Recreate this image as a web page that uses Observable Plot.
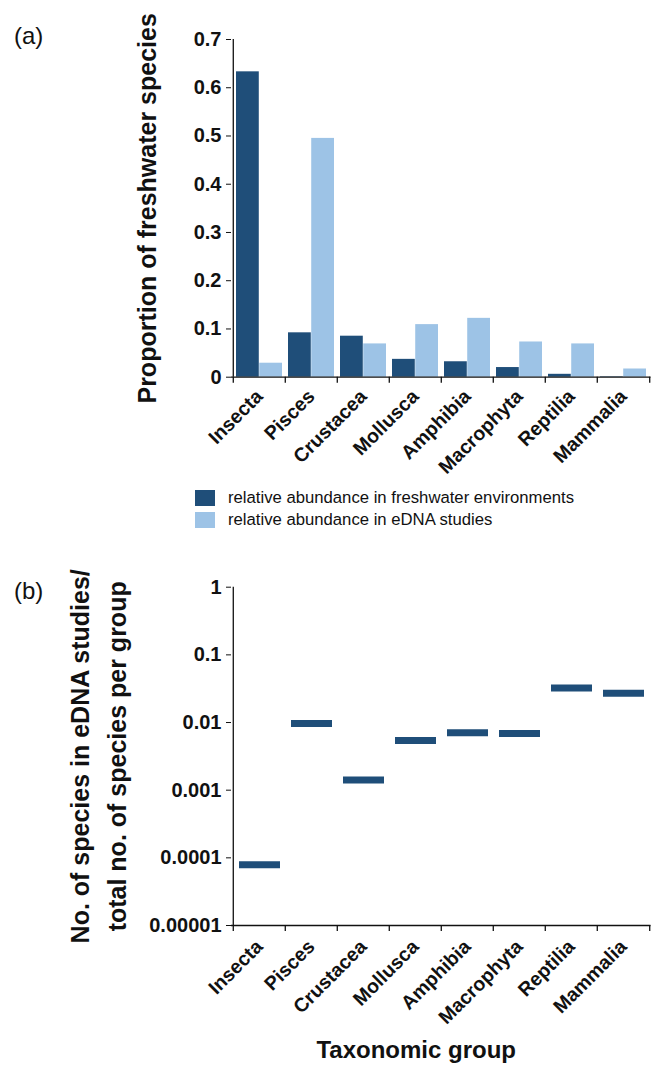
<!DOCTYPE html>
<html><head><meta charset="utf-8">
<script src="https://cdn.jsdelivr.net/npm/d3@7"></script>
<script src="https://cdn.jsdelivr.net/npm/@observablehq/plot@0.6"></script>
<style>
body{margin:0;background:#fff;}
#wrap{position:relative;width:659px;height:1076px;font-family:"Liberation Sans",Arial,sans-serif;color:#111;overflow:hidden;}
.abs{position:absolute;}
.panel-label{font-size:24px;font-weight:normal;}
.leg-row{display:flex;align-items:center;height:22px;font-size:16.7px;}
.sw{width:20px;height:16px;margin-right:13px;}
</style></head><body><div id="wrap"></div>
<script>
const categories = ["Insecta","Pisces","Crustacea","Mollusca","Amphibia","Macrophyta","Reptilia","Mammalia"];
const freshwaterShare = [0.633,0.092,0.085,0.037,0.032,0.020,0.006,0.001];
const ednaShare = [0.029,0.495,0.069,0.109,0.122,0.073,0.069,0.017];
const ednaRatio = [0.000079,0.0097,0.00142,0.00542,0.00704,0.00687,0.0325,0.027];
const yTicksA = [0,0.1,0.2,0.3,0.4,0.5,0.6,0.7];
const yTicksB = [1,0.1,0.01,0.001,0.0001,0.00001];
const seriesNames = ["relative abundance in freshwater environments","relative abundance in eDNA studies"];
const colors = ["#1f4e79","#9dc3e6"];
const yTitleA = "Proportion of freshwater species";
const yTitleB = "No. of species in eDNA studies/\ntotal no. of species per group";
const xTitleB = "Taxonomic group";

const FONT = '"Liberation Sans", Arial, sans-serif';
const W = 659, mL = 231, mR = 8.5;
const bw = (W - mL - mR) / categories.length;
const ink = "#111";
const wrap = document.getElementById("wrap");

function place(el, left, top) {
  const d = document.createElement("div");
  d.className = "abs"; d.style.left = left + "px"; d.style.top = top + "px";
  d.appendChild(el); wrap.appendChild(d); return d;
}
const baseStyle = {fontFamily: FONT, fontSize: "20px", fontWeight: "bold", color: ink, background: "transparent", overflow: "visible"};

// Panel (a)
const dataA = categories.map((c, i) => ({c, fw: freshwaterShare[i], ed: ednaShare[i]}));
const HA = 470;
const plotA = Plot.plot({
  width: W, height: HA, marginLeft: mL, marginRight: mR, marginTop: 39, marginBottom: HA - 376.7,
  style: baseStyle,
  x: {domain: categories, padding: 0},
  y: {domain: [0, 0.7]},
  marks: [
    Plot.barY(dataA, {x: "c", y: "fw", fill: colors[0], insetLeft: 3, insetRight: bw / 2}),
    Plot.barY(dataA, {x: "c", y: "ed", fill: colors[1], insetLeft: bw / 2, insetRight: 3}),
    Plot.axisY({ticks: yTicksA, tickFormat: d => d === 0 ? "0" : d.toFixed(1), tickSize: 5, tickPadding: 5, label: null, stroke: ink}),
    Plot.axisX({tickSize: 0, tickPadding: 16, tickRotate: -45, label: null, fontSize: 19.5}),
    Plot.ruleY([0], {stroke: ink, strokeWidth: 1.3}),
    Plot.ruleX([categories[0]], {x: d => d, dx: -bw / 2, stroke: ink, strokeWidth: 1.3}),
    Plot.ruleX(categories, {x: d => d, y1: 0, y2: 0, insetBottom: -6, dx: -bw / 2, stroke: ink, strokeWidth: 1.3}),
    Plot.ruleX([categories[categories.length - 1]], {x: d => d, y1: 0, y2: 0, insetBottom: -6, dx: bw / 2, stroke: ink, strokeWidth: 1.3}),
    Plot.text([yTitleA], {frameAnchor: "left", textAnchor: "middle", dx: -84, rotate: -90, fontSize: 25, fontWeight: "bold", fill: ink})
  ]
});
place(plotA, 0, 0);

// Legend
const leg = document.createElement("div");
seriesNames.forEach((n, i) => {
  const row = document.createElement("div"); row.className = "leg-row";
  const sw = document.createElement("div"); sw.className = "sw"; sw.style.background = colors[i];
  const t = document.createElement("span"); t.textContent = n;
  row.appendChild(sw); row.appendChild(t); leg.appendChild(row);
});
place(leg, 195, 487);

// Panel labels
const la = document.createElement("div"); la.className = "panel-label"; la.textContent = "(a)";
place(la, 14, 22);
const lb = document.createElement("div"); lb.className = "panel-label"; lb.textContent = "(b)";
place(lb, 14, 577);

// Panel (b)
const dataB = categories.map((c, i) => ({c, r: ednaRatio[i]}));
const topB = 540, HB = 1076 - topB;
const plotB = Plot.plot({
  width: W, height: HB, marginLeft: mL, marginRight: mR, marginTop: 586.7 - topB, marginBottom: HB - (925 - topB),
  style: baseStyle,
  x: {domain: categories, padding: 0},
  y: {type: "log", domain: [1e-5, 1]},
  marks: [
    Plot.tickY(dataB, {x: "c", y: "r", stroke: colors[0], strokeWidth: 7, insetLeft: 6, insetRight: 5}),
    Plot.axisY({ticks: yTicksB, tickFormat: d => String(d), tickSize: 5, tickPadding: 5, label: null, stroke: ink}),
    Plot.axisX({tickSize: 0, tickPadding: 18, tickRotate: -45, label: null, fontSize: 19.5}),
    Plot.ruleY([1e-5], {stroke: ink, strokeWidth: 1.3}),
    Plot.ruleX([categories[0]], {x: d => d, dx: -bw / 2, stroke: ink, strokeWidth: 1.3}),
    Plot.ruleX(categories, {x: d => d, y1: 1e-5, y2: 1e-5, insetBottom: -6, dx: -bw / 2, stroke: ink, strokeWidth: 1.3}),
    Plot.ruleX([categories[categories.length - 1]], {x: d => d, y1: 1e-5, y2: 1e-5, insetBottom: -6, dx: bw / 2, stroke: ink, strokeWidth: 1.3}),
    Plot.text([yTitleB], {frameAnchor: "left", textAnchor: "middle", dx: -136, dy: 0, rotate: -90, fontSize: 25, fontWeight: "bold", lineHeight: 1.5, fill: ink}),
    Plot.text([xTitleB], {frameAnchor: "bottom", dx: -25, dy: 132, fontSize: 24, fontWeight: "bold", fill: ink})
  ]
});
place(plotB, 0, topB);
</script></body></html>
